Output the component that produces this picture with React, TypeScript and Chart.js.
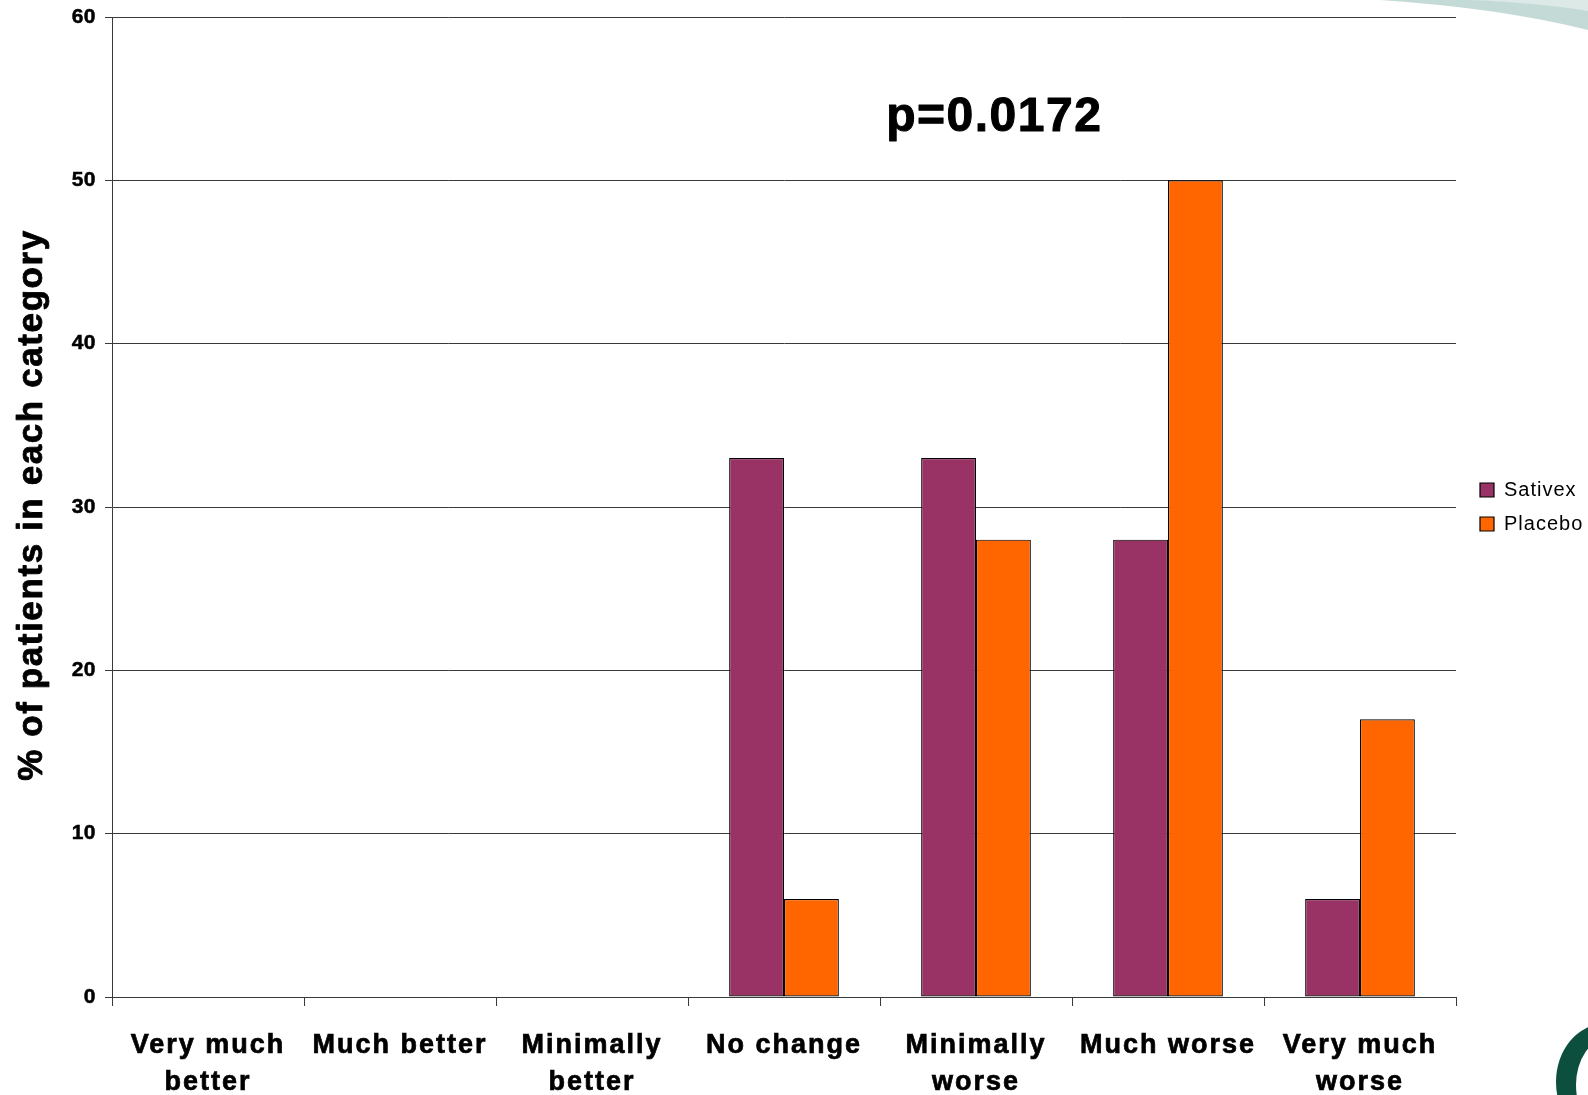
import React, { useEffect, useRef } from "react";
import { Chart, registerables } from "chart.js";

Chart.register(...registerables);

// ---------- data ----------
const categories: string[][] = [
  ["Very much", "better"],
  ["Much better"],
  ["Minimally", "better"],
  ["No change"],
  ["Minimally", "worse"],
  ["Much worse"],
  ["Very much", "worse"],
];
const seriesNames: string[] = ["Sativex", "Placebo"];
const sativexValues: number[] = [0, 0, 0, 33, 33, 28, 6];
const placeboValues: number[] = [0, 0, 0, 6, 28, 50, 17];
const yTickValues: number[] = [0, 10, 20, 30, 40, 50, 60];
const yAxisTitle = "% of patients in each category";
const pValueLabel = "p=0.0172";

// ---------- styles ----------
const FONT = '"Liberation Sans", Arial, Helvetica, sans-serif';
const SATIVEX_COLOR = "#993366";
const PLACEBO_COLOR = "#FF6600";
const LINE_COLOR = "#3a3a3a";
const W = 1588;
const H = 1095;
const PLOT_RIGHT = 1456;

function withSpacing(obj: any, name: string, ls: string) {
  if (!obj || obj["__wrapped_" + name]) return;
  const orig = obj[name];
  obj[name] = function (...args: any[]) {
    const ctx = this.ctx as any;
    const prev = ctx.letterSpacing;
    ctx.letterSpacing = ls;
    try {
      return orig.apply(this, args);
    } finally {
      ctx.letterSpacing = prev;
    }
  };
  obj["__wrapped_" + name] = true;
}

const spacingPlugin = {
  id: "spacing",
  beforeUpdate(chart: any) {
    chart.ctx.letterSpacing = "1px";
  },
  beforeLayout(chart: any) {
    chart.ctx.letterSpacing = "1px";
  },
  afterLayout(chart: any) {
    if (chart.legend) {
      chart.legend.left += 10;
      chart.legend.right += 10;
      chart.legend.top -= 49;
      chart.legend.bottom -= 49;
      withSpacing(chart.legend, "draw", "1px");
    }
    withSpacing(chart.scales.x, "drawLabels", "2px");
    withSpacing(chart.scales.y, "drawLabels", "0.5px");
  },
  beforeDraw(chart: any) {
    const ctx = chart.ctx as CanvasRenderingContext2D;
    (ctx as any).letterSpacing = "1px";
    // decorative slide elements
    ctx.save();
    ctx.fillStyle = "#c4dad6";
    ctx.beginPath();
    ctx.moveTo(1380, 0);
    ctx.quadraticCurveTo(1500, 8, 1588, 30);
    ctx.lineTo(1588, 0);
    ctx.closePath();
    ctx.fill();
    ctx.fillStyle = "#dce9e6";
    ctx.beginPath();
    ctx.moveTo(1470, 0);
    ctx.quadraticCurveTo(1540, 3, 1588, 11);
    ctx.lineTo(1588, 0);
    ctx.closePath();
    ctx.fill();
    // logo arc
    ctx.fillStyle = "#0c4f3e";
    ctx.beginPath();
    ctx.ellipse(1604, 1082, 48, 58, 0, 0, Math.PI * 2);
    ctx.ellipse(1609, 1085, 33, 47, 0, 0, Math.PI * 2);
    ctx.fill("evenodd");
    ctx.restore();
  },
};

const textPlugin = {
  id: "texts",
  afterDraw(chart: any) {
    const ctx = chart.ctx as CanvasRenderingContext2D;
    const area = chart.chartArea;
    const xs = chart.scales.x;
    const ys = chart.scales.y;
    ctx.save();
    (ctx as any).letterSpacing = "1.6px";
    ctx.fillStyle = "#000";
    ctx.strokeStyle = "#000";
    ctx.lineWidth = 0.8;
    ctx.lineJoin = "round";
    ctx.font = `bold 35px ${FONT}`;
    ctx.textAlign = "center";
    ctx.textBaseline = "middle";
    ctx.translate(32, (area.top + area.bottom) / 2 - 2);
    ctx.rotate(-Math.PI / 2);
    ctx.strokeText(yAxisTitle, 0, 0);
    ctx.fillText(yAxisTitle, 0, 0);
    ctx.restore();

    ctx.save();
    (ctx as any).letterSpacing = "1.5px";
    ctx.fillStyle = "#000";
    ctx.strokeStyle = "#000";
    ctx.lineWidth = 1;
    ctx.lineJoin = "round";
    ctx.font = `bold 48px ${FONT}`;
    ctx.textAlign = "center";
    ctx.textBaseline = "alphabetic";
    const px = xs.getPixelForValue(4) + 0.095 * (xs.width / categories.length);
    const py = ys.getPixelForValue(53.0);
    ctx.strokeText(pValueLabel, px, py);
    ctx.fillText(pValueLabel, px, py);
    ctx.restore();
  },
};

export default function App() {
  const ref = useRef<HTMLCanvasElement | null>(null);

  useEffect(() => {
    if (!ref.current) return;
    const chart = new Chart(ref.current, {
      type: "bar",
      data: {
        labels: categories,
        datasets: [
          {
            label: seriesNames[0],
            data: sativexValues,
            backgroundColor: SATIVEX_COLOR,
            borderColor: "#000",
            borderWidth: 1.2,
            borderSkipped: false,
          },
          {
            label: seriesNames[1],
            data: placeboValues,
            backgroundColor: PLACEBO_COLOR,
            borderColor: "#000",
            borderWidth: 1.2,
            borderSkipped: false,
          },
        ],
      },
      options: {
        responsive: false,
        animation: false,
        devicePixelRatio: 1,
        events: [],
        datasets: {
          bar: { categoryPercentage: 2 / 3.5, barPercentage: 1 },
        },
        layout: { padding: { top: 17, right: 1, left: 0, bottom: 0 } },
        plugins: {
          legend: {
            position: "right",
            labels: {
              boxWidth: 14,
              boxHeight: 14,
              padding: 14,
              color: "#000",
              font: { family: FONT, size: 20 },
            },
          },
          tooltip: { enabled: false },
          title: { display: false },
        },
        scales: {
          x: {
            offset: true,
            grid: {
              offset: true,
              drawOnChartArea: false,
              drawTicks: true,
              tickLength: 9,
              color: LINE_COLOR,
            },
            border: { color: LINE_COLOR },
            ticks: {
              color: "#000",
              textStrokeColor: "#000",
              textStrokeWidth: 0.7,
              padding: 21,
              maxRotation: 0,
              autoSkip: false,
              font: { family: FONT, size: 27, weight: "bold", lineHeight: 37 / 27 },
            },
            afterFit(scale: any) {
              scale.height = 98;
              scale.paddingLeft = 0;
              scale.paddingRight = 0;
            },
          },
          y: {
            min: 0,
            max: 60,
            afterBuildTicks(scale: any) {
              scale.ticks = yTickValues.map((v) => ({ value: v }));
            },
            grid: { color: LINE_COLOR, tickLength: 7 },
            border: { color: LINE_COLOR },
            ticks: {
              color: "#000",
              textStrokeColor: "#000",
              textStrokeWidth: 0.5,
              padding: 9,
              font: { family: FONT, size: 21, weight: "bold" },
            },
            afterFit(scale: any) {
              scale.width = 112;
              scale.paddingTop = 0;
              scale.paddingBottom = 0;
            },
          },
        },
      },
      plugins: [spacingPlugin, textPlugin],
    } as any);

    const diff = chart.chartArea.right - PLOT_RIGHT;
    if (Math.abs(diff) > 0.25) {
      (chart.options.layout as any).padding.right += diff;
      chart.update();
    }

    return () => chart.destroy();
  }, []);

  return (
    <div style={{ position: "fixed", left: 0, top: 0, width: W, height: H, background: "#fff" }}>
      <canvas ref={ref} width={W} height={H} style={{ width: W, height: H, display: "block" }} />
    </div>
  );
}
